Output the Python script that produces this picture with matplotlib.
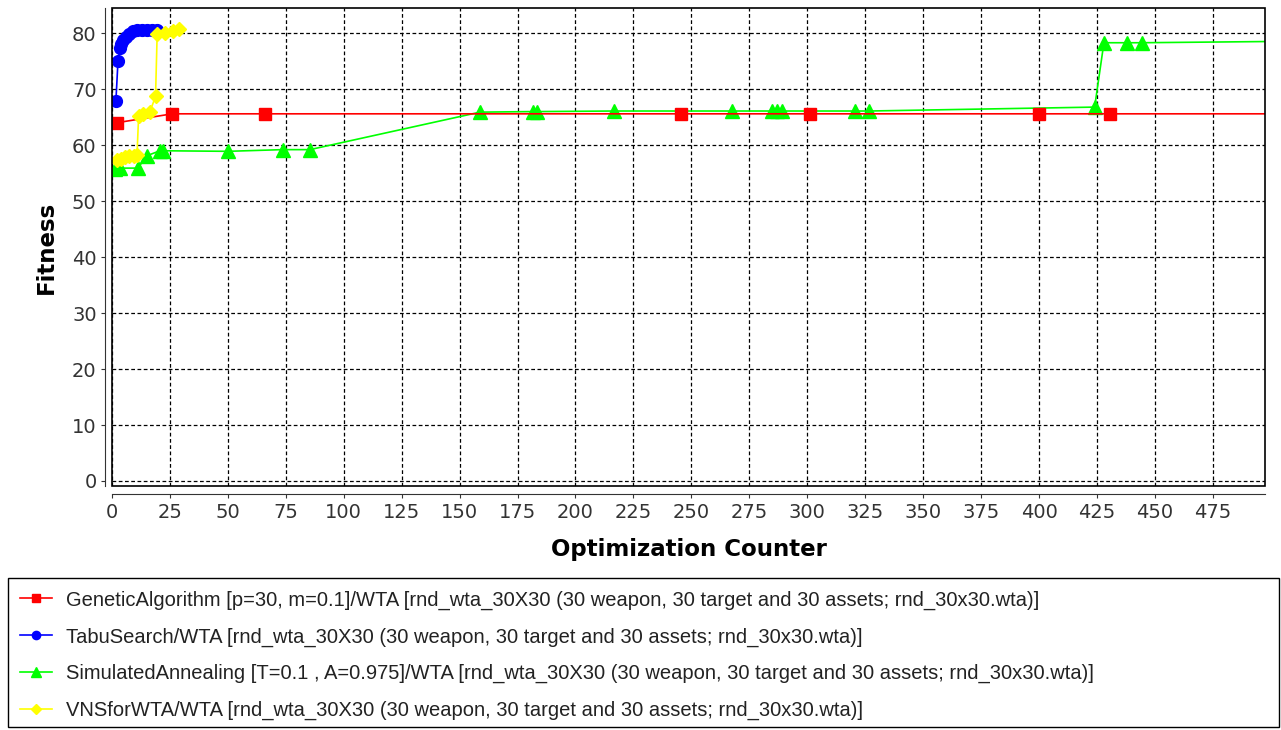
import matplotlib
matplotlib.use('Agg')
from matplotlib import pyplot as plt
from matplotlib.patches import Rectangle

# values
ga_x = [2, 26, 66, 245.5, 301, 400, 430.5, 520]
ga_y = [64.0, 65.6, 65.6, 65.6, 65.6, 65.6, 65.6, 65.6]

ts_x = [1.7, 2.6, 3.5, 3.9, 4.7, 6.0, 7.3, 9.1, 10.8, 12.9, 15.1, 17.3, 19.4]
ts_y = [67.9, 75.0, 77.4, 78.1, 78.7, 79.4, 79.9, 80.4, 80.5, 80.5, 80.5, 80.5, 80.5]

sa_x = [1.5, 3.5, 11.2, 15, 20.7, 22, 50, 73.6, 85.4, 158.8, 181.7, 183.4, 216.6,
        267.5, 284.6, 286.8, 289, 320.6, 326.5, 424, 428, 437.8, 444.4, 520]
sa_y = [55.8, 55.9, 55.9, 58.1, 59.0, 59.0, 58.9, 59.2, 59.2, 65.9, 66.0, 66.0, 66.1,
        66.1, 66.1, 66.1, 66.1, 66.1, 66.1, 66.8, 78.3, 78.3, 78.3, 78.6]

vns_x = [2.2, 4.0, 5.5, 7.5, 9.5, 10.8, 11.5, 13.5, 16.4, 18.8, 19.5, 23.0, 26.5, 29.0]
vns_y = [57.3, 57.6, 57.8, 58.0, 58.1, 58.2, 65.2, 65.5, 66.0, 68.7, 79.8, 80.1, 80.4, 80.7]

suffix = '/WTA [rnd_wta_30X30 (30 weapon, 30 target and 30 assets; rnd_30x30.wta)]'
labels = ['GeneticAlgorithm [p=30, m=0.1]' + suffix,
          'TabuSearch' + suffix,
          'SimulatedAnnealing [T=0.1 , A=0.975]' + suffix,
          'VNSforWTA' + suffix]

x_ticks = list(range(0, 500, 25))
y_ticks = list(range(0, 90, 10))

plt.rcParams['font.family'] = ['DejaVu Sans']

W, H = 1281, 730
fig = plt.figure(figsize=(W / 100, H / 100), dpi=100)
ax = fig.add_axes([0.0874, 0.3342, 0.9001, 0.6548])

lw = 1.2
ms = 8.5
ax.plot(ga_x, ga_y, color='#ff0000', lw=lw, marker='s', ms=ms, label=labels[0], zorder=4)
ax.plot(ts_x, ts_y, color='#0000ff', lw=lw, marker='o', ms=ms, label=labels[1], zorder=4)
ax.plot(sa_x, sa_y, color='#00ff00', lw=lw, marker='^', ms=ms + 1, label=labels[2], zorder=3)
ax.plot(vns_x, vns_y, color='#ffff00', lw=lw, marker='D', ms=ms - 1, label=labels[3], zorder=5)

ax.set_xlim(0, 497.5)
ax.set_ylim(-0.9, 84.5)
ax.set_xticks(x_ticks)
ax.set_yticks(y_ticks)
ax.grid(True, color='black', linestyle=(0, (3, 2)), linewidth=0.9)
ax.set_axisbelow(True)

# jfreechart style: axis lines offset from the plot outline
for s in ['top', 'right']:
    ax.spines[s].set_visible(False)
ax.spines['left'].set_position(('outward', 5))
ax.spines['bottom'].set_position(('outward', 6))
ax.spines['left'].set_color('#333333')
ax.spines['bottom'].set_color('#333333')
ax.add_patch(Rectangle((0, 0), 1, 1, transform=ax.transAxes, fill=False,
                       edgecolor='black', lw=1.2, clip_on=False, zorder=6))

ax.tick_params(axis='both', direction='out', length=3, labelsize=14,
               labelcolor='#333333', color='#333333', pad=3)
ax.set_xlabel('Optimization Counter', fontsize=16.5, fontweight='bold', labelpad=12)
ax.set_ylabel('Fitness', fontsize=16.5, fontweight='bold', labelpad=10)

leg = fig.legend(loc='upper left', bbox_to_anchor=(8 / W, 1 - 578 / H, 1272 / W, 0.0),
                 mode='expand', ncol=1, frameon=False,
                 borderaxespad=0, prop={'family': 'Liberation Sans', 'size': 14.5},
                 handlelength=1.55, handletextpad=0.7, labelspacing=0.87, borderpad=0.62,
                 markerscale=0.7)
for t in leg.get_texts():
    t.set_color('#222222')

# legend box drawn separately so it fits the figure like the original
fig.patches.append(Rectangle((8 / W, 3 / H), 1271 / W, 149 / H, transform=fig.transFigure,
                             fill=False, edgecolor='black', lw=1.0))

fig.savefig('out.png', dpi=100)
